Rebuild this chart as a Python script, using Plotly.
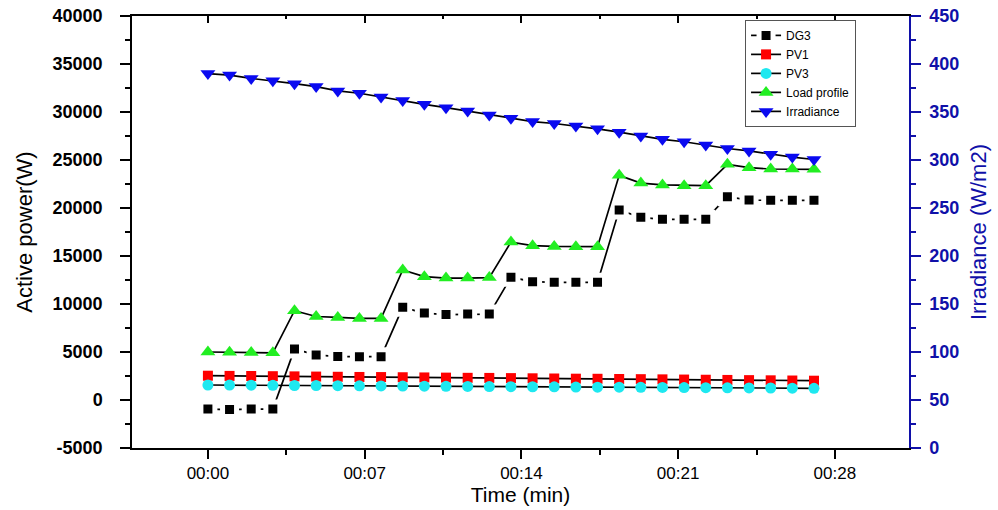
import plotly.graph_objects as go

# ---------------- data ----------------
sample_interval_min = 58 / 60  # one sample roughly every 58 s
n_samples = 29
time_min = [i * sample_interval_min for i in range(n_samples)]

dg3 = [-950, -1000, -950, -950,
       5300, 4700, 4520, 4510, 4510,
       9650, 9050, 8900, 8950, 8950,
       12780, 12330, 12260, 12260, 12260,
       19790, 19030, 18820, 18820, 18820,
       21180, 20830, 20800, 20800, 20800]

pv1 = [2530, 2510, 2500, 2480, 2460, 2440, 2420, 2400, 2390, 2370,
       2350, 2330, 2310, 2300, 2280, 2260, 2240, 2220, 2210, 2190,
       2170, 2150, 2130, 2110, 2090, 2070, 2050, 2030, 2010]

pv3 = [1560, 1550, 1540, 1530, 1510, 1500, 1490, 1480, 1460, 1450,
       1440, 1430, 1410, 1400, 1390, 1380, 1370, 1350, 1340, 1330,
       1320, 1310, 1290, 1280, 1270, 1260, 1250, 1230, 1220]

load_profile = [5000, 4980, 4950, 4920,
                9300, 8700, 8600, 8500, 8500,
                13550, 12850, 12700, 12700, 12750,
                16450, 16080, 16000, 15970, 15970,
                23400, 22600, 22400, 22330, 22330,
                24550, 24200, 24060, 24060, 24030]

irradiance = [390, 388.5, 385, 382.5, 379.5, 376.5, 372, 369.5, 365.5, 362,
              358, 354.5, 351, 347, 343.5, 340, 338, 335.5, 332.5, 329,
              325, 321.5, 319, 315.5, 312, 309.5, 306, 303, 300.5]

x_tick_vals = [0, 7, 14, 21, 28]
x_tick_text = ["00:00", "00:07", "00:14", "00:21", "00:28"]

y_tick_vals = [-5000, 0, 5000, 10000, 15000, 20000, 25000, 30000, 35000, 40000]
y_tick_text = ["-5000", "0", "5000", "10000", "15000", "20000", "25000",
               "30000", "35000", "40000"]

# ---------------- style ----------------
FONT = "Liberation Sans, Arial, sans-serif"
BLUE_AX = "#1010a8"
LINE_W = 1.7

fig = go.Figure()

fig.add_trace(go.Scatter(
    x=time_min, y=dg3, name="DG3", mode="lines+markers",
    line=dict(color="black", width=LINE_W),
    marker=dict(symbol="square", size=14, color="black",
                line=dict(color="white", width=5)),
))
fig.add_trace(go.Scatter(
    x=time_min, y=pv1, name="PV1", mode="lines+markers",
    line=dict(color="black", width=LINE_W),
    marker=dict(symbol="square", size=10, color="#ff0000"),
))
fig.add_trace(go.Scatter(
    x=time_min, y=pv3, name="PV3", mode="lines+markers",
    line=dict(color="black", width=LINE_W),
    marker=dict(symbol="circle", size=11, color="#1ee8f0"),
))
fig.add_trace(go.Scatter(
    x=time_min, y=load_profile, name="Load profile", mode="lines+markers",
    line=dict(color="black", width=LINE_W),
    marker=dict(symbol="triangle-up", size=13, color="#22ee22"),
))
fig.add_trace(go.Scatter(
    x=time_min, y=irradiance, name="Irradiance", mode="lines+markers",
    yaxis="y2",
    line=dict(color="black", width=LINE_W),
    marker=dict(symbol="triangle-down", size=13, color="#0a0af0"),
))
# helper trace so that the top (mirror) axis with inward ticks is drawn
fig.add_trace(go.Scatter(x=[None], y=[None], xaxis="x2", showlegend=False,
                         hoverinfo="skip"))

x_range = [-3.39, 31.31]

fig.update_layout(
    width=998, height=510,
    margin=dict(l=132, r=89, t=16, b=62, autoexpand=False),
    paper_bgcolor="white", plot_bgcolor="white",
    font=dict(family=FONT, color="black"),
    showlegend=True,
    legend=dict(
        x=0.789, y=0.991, xanchor="left", yanchor="top",
        bgcolor="white", bordercolor="#555555", borderwidth=1,
        font=dict(size=12, family=FONT, color="black"),
        tracegroupgap=0, itemwidth=30,
    ),
    xaxis=dict(
        range=x_range, tickmode="array", tickvals=x_tick_vals,
        ticktext=x_tick_text, ticks="outside", ticklen=9, tickwidth=1.5,
        tickcolor="black", showline=True, linecolor="black", linewidth=1.5,
        showgrid=False, zeroline=False, automargin=False,
        tickfont=dict(size=17, family=FONT),
        ticklabelstandoff=0,
        minor=dict(tickmode="linear", tick0=0, dtick=3.5, ticks="outside",
                   ticklen=5, tickwidth=1.5, tickcolor="black", showgrid=False),
        title=dict(text="Time (min)", font=dict(size=21, family=FONT), standoff=2),
    ),
    xaxis2=dict(
        overlaying="x", side="top", matches="x", anchor="y",
        range=x_range, tickmode="array", tickvals=x_tick_vals,
        showticklabels=False, ticks="inside", ticklen=7, tickwidth=1.5,
        tickcolor="black", showline=True, linecolor="black", linewidth=1.5,
        showgrid=False, zeroline=False, automargin=False,
        minor=dict(tickmode="linear", tick0=0, dtick=3.5, ticks="inside",
                   ticklen=3, tickwidth=1.5, tickcolor="black", showgrid=False),
    ),
    yaxis=dict(
        range=[-5000, 40000], tickmode="array", tickvals=y_tick_vals,
        ticktext=y_tick_text,
        ticks="outside", ticklen=10, tickwidth=1.5, tickcolor="black",
        showline=True, linecolor="black", linewidth=1.5,
        showgrid=False, zeroline=False, automargin=False,
        tickfont=dict(size=18, family=FONT, weight="bold"),
        ticklabelstandoff=14,
        minor=dict(tickmode="linear", tick0=0, dtick=2500, ticks="outside",
                   ticklen=5, tickwidth=1.5, tickcolor="black", showgrid=False),
        title=dict(text="Active power(W)", font=dict(size=22, family=FONT),
                   standoff=14),
    ),
    yaxis2=dict(
        overlaying="y", side="right", anchor="x",
        range=[0, 450], tickmode="linear", tick0=0, dtick=50,
        ticks="outside", ticklen=10, tickwidth=1.5, tickcolor=BLUE_AX,
        showline=True, linecolor=BLUE_AX, linewidth=1.5,
        showgrid=False, zeroline=False, automargin=False,
        tickfont=dict(size=18, family=FONT, weight="bold", color=BLUE_AX),
        ticklabelstandoff=5,
        minor=dict(tickmode="linear", tick0=0, dtick=25, ticks="outside",
                   ticklen=5, tickwidth=1.5, tickcolor=BLUE_AX, showgrid=False),
        title=dict(text="Irradiance (W/m2)",
                   font=dict(size=22, family=FONT, color=BLUE_AX), standoff=12),
    ),
)

fig.write_html("out.html")
